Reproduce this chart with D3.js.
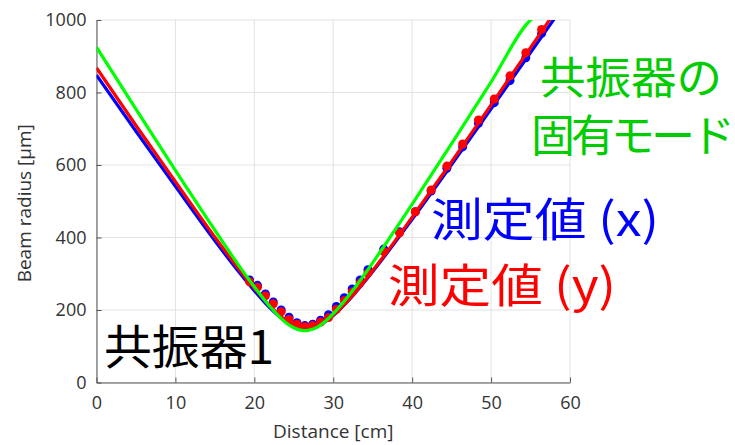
<!DOCTYPE html>
<html>
<head>
<meta charset="utf-8">
<script src="https://cdn.jsdelivr.net/npm/d3@7"></script>
<style>
	html, body { margin: 0; padding: 0; background: #fff; }
	svg { display: block; }
	.tick text { font-family: "Open Sans", sans-serif; font-size: 18px; fill: #333; }
	.grid line { stroke: #e2e2e2; stroke-width: 1; }
	.axis path, .axis line { stroke: #555; }
</style>
</head>
<body>
<svg id="svg_beam" width="735" height="445"></svg>
<script>
// measured points (distance [cm])
var dotX = [19.4, 20.4, 21.4, 22.4, 23.4, 24.4, 25.4, 26.4, 27.4, 28.4, 29.4, 30.4, 31.4, 32.4, 33.4, 34.4,
	36.4, 38.4, 40.4, 42.4, 44.4, 46.4, 48.4, 50.4, 52.4, 54.4, 56.4];
var dotRedY = [278, 263, 239, 217, 195, 174, 161, 154, 157, 167, 179, 202, 226, 250, 275, 302,
	361, 413, 471, 531, 597, 658, 724, 782, 846, 910, 974];
var dotBlueY = [283, 268, 244, 222, 200, 180, 165, 157, 161, 172, 187, 210, 234, 258, 283, 311,
	368, 416, 471, 528, 591, 650, 715, 772, 833, 896, 963];

// fitted curves
var lineX = [0, 5, 10, 15, 18, 20, 22, 24, 25, 26, 26.5, 27, 28, 29, 30, 32, 34, 36, 40, 45, 50, 55, 58];
var lineRedY = [868, 709, 554, 401, 314, 260, 211, 172, 159, 151, 150, 150, 157, 169, 186, 229, 281, 337, 456, 609, 766, 924, 1019];
var lineBlueY = [848, 693, 541, 391, 306, 253, 205, 168, 155, 149, 148, 149, 155, 168, 185, 228, 279, 334, 450, 601, 755, 910, 1003];
var lineGreenY = [925, 754, 585, 420, 324, 264, 209, 165, 151, 144, 143, 145, 153, 169, 190, 241, 299, 362, 492, 659, 829, 1000, 1034];

var xTicks = [0, 10, 20, 30, 40, 50, 60];
var yTicks = [0, 200, 400, 600, 800, 1000];

var svg = d3.select("#svg_beam"),
	margin = {top: 20, left: 96.5, right: 165, bottom: 62.5},
	width = +svg.attr("width"),
	height = +svg.attr("height");

var x = d3.scaleLinear().domain([0, 60]).range([margin.left, width - margin.right]);
var y = d3.scaleLinear().domain([0, 1000]).range([height - margin.bottom, margin.top]);

svg.append("defs").append("clipPath").attr("id", "clip_plot")
	.append("rect")
	.attr("x", x(0)).attr("y", y(1000))
	.attr("width", x(60) - x(0)).attr("height", y(0) - y(1000));

// grid
var grid = svg.append("g").attr("class", "grid");
grid.selectAll(".gx").data(xTicks).enter().append("line")
	.attr("x1", function(d) { return x(d); }).attr("x2", function(d) { return x(d); })
	.attr("y1", y(0)).attr("y2", y(1000));
grid.selectAll(".gy").data(yTicks).enter().append("line")
	.attr("x1", x(0)).attr("x2", x(60))
	.attr("y1", function(d) { return y(d); }).attr("y2", function(d) { return y(d); });

// axes
svg.append("g").attr("class", "axis")
	.attr("transform", "translate(0," + y(0) + ")")
	.call(d3.axisBottom(x).tickValues(xTicks).tickFormat(d3.format("d")).tickSizeInner(-5).tickSizeOuter(0).tickPadding(14));
svg.append("g").attr("class", "axis")
	.attr("transform", "translate(" + x(0) + ",0)")
	.call(d3.axisLeft(y).tickValues(yTicks).tickFormat(d3.format("d")).tickSizeInner(-5).tickSizeOuter(0).tickPadding(10));

svg.append("text")
	.attr("x", (x(0) + x(60)) / 2).attr("y", 438)
	.attr("text-anchor", "middle")
	.style("font-family", "'Open Sans', sans-serif").style("font-size", "19px").style("fill", "#333")
	.text("Distance [cm]");
svg.append("text")
	.attr("transform", "translate(31," + (y(500) + 2) + ") rotate(-90)")
	.attr("text-anchor", "middle")
	.style("font-family", "'Open Sans', sans-serif").style("font-size", "19px").style("fill", "#333")
	.text("Beam radius [μm]");

var line = d3.line()
	.x(function(d) { return x(d[0]); })
	.y(function(d) { return y(d[1]); })
	.curve(d3.curveMonotoneX);

function zip(xs, ys) {
	return xs.map(function(v, i) { return [v, ys[i]]; });
}

var g_plot = svg.append("g").attr("clip-path", "url(#clip_plot)");

function drawDots(ys, color) {
	g_plot.append("g").selectAll("circle").data(zip(dotX, ys)).enter().append("circle")
		.attr("cx", function(d) { return x(d[0]); })
		.attr("cy", function(d) { return y(d[1]); })
		.attr("r", 4.5)
		.attr("fill", color);
}

g_plot.append("path").attr("d", line(zip(lineX, lineBlueY)))
	.attr("fill", "none").attr("stroke", "#0000ff").attr("stroke-width", 3.2);
drawDots(dotBlueY, "#0000ff");
g_plot.append("path").attr("d", line(zip(lineX, lineRedY)))
	.attr("fill", "none").attr("stroke", "#ff0000").attr("stroke-width", 3.2);
drawDots(dotRedY, "#ff0000");
g_plot.append("path").attr("d", line(zip(lineX, lineGreenY)))
	.attr("fill", "none").attr("stroke", "#00ff00").attr("stroke-width", 3.2);

// labels
var cjk = "'Noto Sans CJK JP', sans-serif";
function label(txt, px, py, color, size, len) {
	var t = svg.append("text")
		.attr("x", px).attr("y", py)
		.style("font-family", cjk).style("font-size", size + "px").style("fill", color)
		.text(txt);
	if (len) t.attr("textLength", len).attr("lengthAdjust", "spacingAndGlyphs");
	return t;
}
label("共振器1", 104, 364, "#000", 47, 170);
label("共振器の", 540, 94, "#00cc00", 44, 182);
label("固有モード", 531, 152, "#00cc00", 44).style("letter-spacing", "-4px");
label("測定値 (x)", 431, 236, "#0000ff", 46, 228);
label("測定値 (y)", 388, 302, "#ff0000", 46, 228);
</script>
</body>
</html>
